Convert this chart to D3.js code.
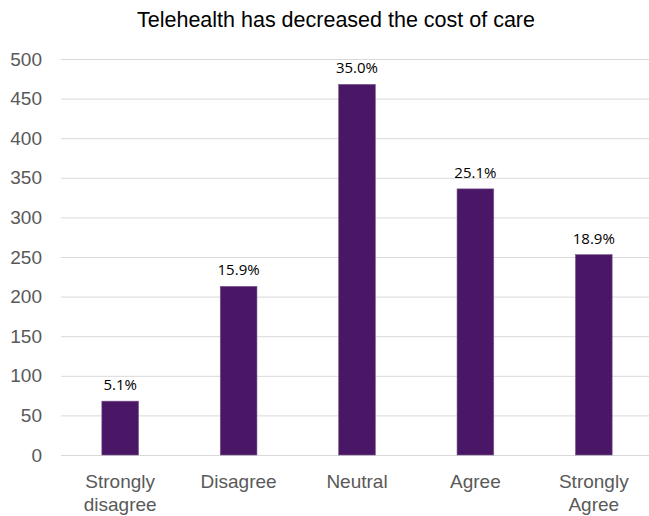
<!DOCTYPE html>
<html><head><meta charset="utf-8">
<script src="https://d3js.org/d3.v7.min.js"></script>
<style>body{margin:0;background:#fff}</style>
</head><body>
<script>
const categories = ["Strongly disagree", "Disagree", "Neutral", "Agree", "Strongly Agree"];
const values = [68, 213, 468, 336, 253];
const pctLabels = ["5.1%", "15.9%", "35.0%", "25.1%", "18.9%"];
const yTicks = [0, 50, 100, 150, 200, 250, 300, 350, 400, 450, 500];
const title = "Telehealth has decreased the cost of care";

const W = 649, H = 516;
const m = {left: 61, right: -4, top: 59, bottom: 61};
const svg = d3.select("body").append("svg").attr("width", W).attr("height", H);

const x = d3.scaleBand().domain(categories).range([m.left, W - m.right]).paddingInner(0.69).paddingOuter(0.345);
const y = d3.scaleLinear().domain([0, 500]).range([H - m.bottom, m.top]);

svg.append("text").attr("x", 336).attr("y", 27).attr("text-anchor", "middle")
  .style("font-family", "Liberation Sans, Arial, sans-serif").style("font-size", "21.5px").attr("fill", "#000").text(title);

const yAxis = svg.append("g").attr("transform", `translate(${m.left},0)`)
  .call(d3.axisLeft(y).tickValues(yTicks).tickSize(-(W - m.right - m.left)).tickPadding(19));
yAxis.select(".domain").remove();
yAxis.selectAll(".tick line").attr("stroke", "#d9d9d9").attr("stroke-width", 1);
yAxis.selectAll(".tick text").attr("fill", "#595959").style("font-family", "Liberation Sans, Arial, sans-serif").style("font-size", "19px");

svg.selectAll("rect.bar").data(values).enter().append("rect").attr("class", "bar")
  .attr("x", (d, i) => x(categories[i])).attr("width", x.bandwidth())
  .attr("y", d => y(d)).attr("height", d => y(0) - y(d))
  .attr("fill", "#4a1766").attr("stroke", "#7a5a8e").attr("stroke-width", 0.6);

svg.selectAll("text.pct").data(values).enter().append("text").attr("class", "pct")
  .attr("x", (d, i) => x(categories[i]) + x.bandwidth() / 2).attr("y", d => y(d) - 11)
  .attr("text-anchor", "middle").style("font-family", "Open Sans, sans-serif").style("font-size", "15px")
  .attr("fill", "#000").text((d, i) => pctLabels[i]);

const xl = svg.append("g");
categories.forEach(c => {
  const words = c.split(" ");
  const lines = words.length > 1 ? [words[0], words.slice(1).join(" ")] : [c];
  const t = xl.append("text").attr("x", x(c) + x.bandwidth() / 2).attr("y", 488)
    .attr("text-anchor", "middle").attr("fill", "#595959")
    .style("font-family", "Liberation Sans, Arial, sans-serif").style("font-size", "19px");
  lines.forEach((l, i) => t.append("tspan").attr("x", x(c) + x.bandwidth() / 2).attr("dy", i ? 23 : 0).text(l));
});
</script>
</body></html>
